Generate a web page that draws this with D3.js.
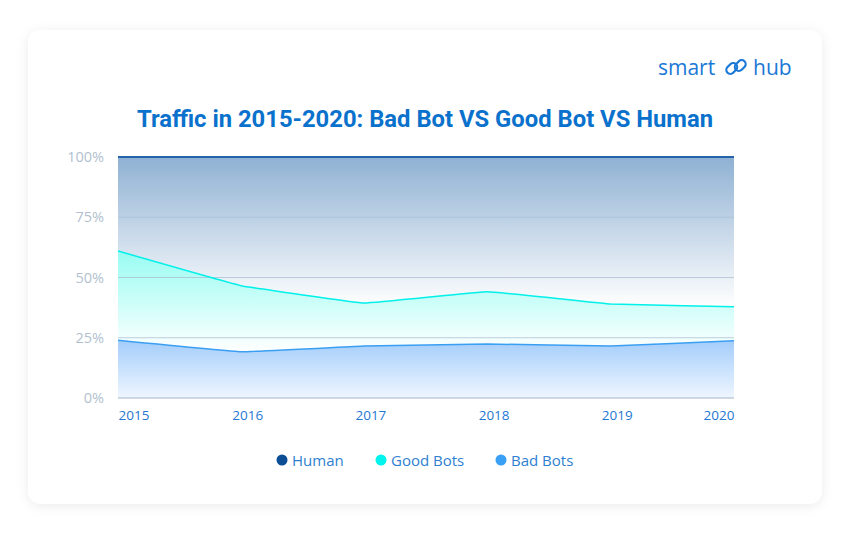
<!DOCTYPE html>
<html>
<head>
<meta charset="utf-8">
<script src="https://cdn.jsdelivr.net/npm/d3@7"></script>
<style>
  html, body { margin: 0; padding: 0; background: #fff; }
  svg { display: block; }
</style>
</head>
<body>
<div id="chart"></div>
<script>
const width = 850;
const height = 536;

// Data (percent of traffic)
const years = ["2015", "2016", "2017", "2018", "2019", "2020"];
const badBots = [24, 19.2, 21.6, 22.4, 21.6, 23.8];
const goodBots = [37, 27.4, 17.8, 21.7, 17.4, 14.1];
const human = [39, 53.4, 60.6, 55.9, 61, 62.1];
const yTicks = [0, 25, 50, 75, 100];
const seriesNames = ["Human", "Good Bots", "Bad Bots"];

const colors = {
  "Human": "#0b4e96",
  "Good Bots": "#00f3ec",
  "Bad Bots": "#3aa0f6"
};

const rows = years.map((y, i) => ({
  year: y, "Bad Bots": badBots[i], "Good Bots": goodBots[i], "Human": human[i]
}));

const svg = d3.select("#chart")
  .append("svg")
  .attr("width", width)
  .attr("height", height);

const defs = svg.append("defs");

// card shadow
const shadow = defs.append("filter").attr("id", "shadow")
  .attr("x", "-10%").attr("y", "-10%").attr("width", "120%").attr("height", "120%");
shadow.append("feDropShadow")
  .attr("dx", 0).attr("dy", 2).attr("stdDeviation", 6)
  .attr("flood-color", "#000").attr("flood-opacity", 0.08);

svg.append("rect")
  .attr("x", 28).attr("y", 30)
  .attr("width", 794).attr("height", 474)
  .attr("rx", 13)
  .attr("fill", "#fff")
  .attr("filter", "url(#shadow)");

// gradients
function grad(id, top, bottom) {
  const g = defs.append("linearGradient").attr("id", id)
    .attr("x1", 0).attr("y1", 0).attr("x2", 0).attr("y2", 1);
  g.append("stop").attr("offset", "0%").attr("stop-color", top);
  g.append("stop").attr("offset", "100%").attr("stop-color", bottom);
}
grad("g-human", "#8fb1d3", "#ffffff");
grad("g-good", "#98fcf2", "#ffffff");
grad("g-bad", "#a3cdfb", "#eff6ff");

const margin = { left: 118, right: 116, top: 157, bottom: 138 };
const x = d3.scalePoint()
  .domain(years)
  .range([margin.left, width - margin.right]);
const y = d3.scaleLinear()
  .domain([0, 100])
  .range([height - margin.bottom, margin.top]);

const stack = d3.stack().keys(["Bad Bots", "Good Bots", "Human"]);
const stacked = stack(rows);

const curve = d3.curveCardinal.tension(0.8);

const area = d3.area()
  .x(d => x(d.data.year))
  .y0(d => y(d[0]))
  .y1(d => y(d[1]))
  .curve(curve);

const line = d3.line()
  .x(d => x(d.data.year))
  .y(d => y(d[1]))
  .curve(curve);

const fillIds = { "Human": "g-human", "Good Bots": "g-good", "Bad Bots": "g-bad" };
const lineColors = { "Human": "#2464aa", "Good Bots": "#00f0ea", "Bad Bots": "#3a9ff3" };

svg.append("g").selectAll("path")
  .data(stacked)
  .enter()
  .append("path")
  .attr("d", area)
  .attr("fill", d => `url(#${fillIds[d.key]})`);

// grid lines
svg.append("g").selectAll("line")
  .data(yTicks.filter(t => t > 0 && t < 100))
  .enter()
  .append("line")
  .attr("x1", margin.left).attr("x2", width - margin.right)
  .attr("y1", d => y(d)).attr("y2", d => y(d))
  .attr("stroke", "#a9bdd2")
  .attr("stroke-opacity", 0.75)
  .attr("stroke-width", 1);

svg.append("g").selectAll("path")
  .data(stacked)
  .enter()
  .append("path")
  .attr("d", line)
  .attr("fill", "none")
  .attr("stroke", d => lineColors[d.key])
  .attr("stroke-width", d => d.key === "Human" ? 1.8 : 1.5);

// baseline
svg.append("line")
  .attr("x1", margin.left).attr("x2", width - margin.right)
  .attr("y1", y(0)).attr("y2", y(0))
  .attr("stroke", "#a5b4c6")
  .attr("stroke-width", 1);

// y axis
const yAxis = svg.append("g")
  .attr("transform", `translate(${margin.left - 11},0)`)
  .call(d3.axisLeft(y).tickValues(yTicks).tickFormat(d => d + "%").tickSize(0));
yAxis.select(".domain").remove();
yAxis.selectAll("text")
  .attr("font-family", "'Open Sans', sans-serif")
  .attr("font-size", 14.5)
  .attr("fill", "#b2bfcf");

// x axis
const xAxis = svg.append("g")
  .attr("transform", `translate(0,${y(0) + 9})`)
  .call(d3.axisBottom(x).tickSize(0));
xAxis.select(".domain").remove();
xAxis.selectAll("text")
  .attr("font-family", "'Open Sans', sans-serif")
  .attr("font-size", 13.5)
  .attr("fill", "#1f78d3")
  .attr("text-anchor", (d, i) => i === 0 ? "start" : i === years.length - 1 ? "end" : "middle")
  .attr("dx", (d, i) => i === 0 || i === years.length - 1 ? 0 : 6);

// title
svg.append("text")
  .attr("x", 425).attr("y", 127)
  .attr("text-anchor", "middle")
  .attr("font-family", "Roboto, sans-serif")
  .attr("font-weight", 700)
  .attr("font-size", 23.8)
  .attr("fill", "#0a71cc")
  .text("Traffic in 2015-2020: Bad Bot VS Good Bot VS Human");

// logo
const logo = svg.append("g").attr("fill", "#1a78d6")
  .attr("font-family", "'Open Sans', sans-serif")
  .attr("font-size", 21);
logo.append("text").attr("x", 658).attr("y", 75).text("smart");
logo.append("text").attr("x", 753).attr("y", 75).text("hub");
const icon = logo.append("g")
  .attr("transform", "translate(736,67) rotate(-45)")
  .attr("fill", "none")
  .attr("stroke", "#1a78d6")
  .attr("stroke-width", 2.2);
icon.append("rect").attr("x", -10).attr("y", -6).attr("width", 12).attr("height", 8).attr("rx", 4);
icon.append("rect").attr("x", -2).attr("y", -2).attr("width", 12).attr("height", 8).attr("rx", 4);

// legend
const legendPos = [282, 381, 501];
const legend = svg.append("g").selectAll("g")
  .data(seriesNames)
  .enter()
  .append("g")
  .attr("transform", (d, i) => `translate(${legendPos[i]},460)`);
legend.append("circle")
  .attr("r", 5.5)
  .attr("fill", d => colors[d]);
legend.append("text")
  .attr("x", 10).attr("y", 5.5)
  .attr("font-family", "'Open Sans', sans-serif")
  .attr("font-size", 15)
  .attr("fill", "#2e7fd1")
  .text(d => d);
</script>
</body>
</html>
